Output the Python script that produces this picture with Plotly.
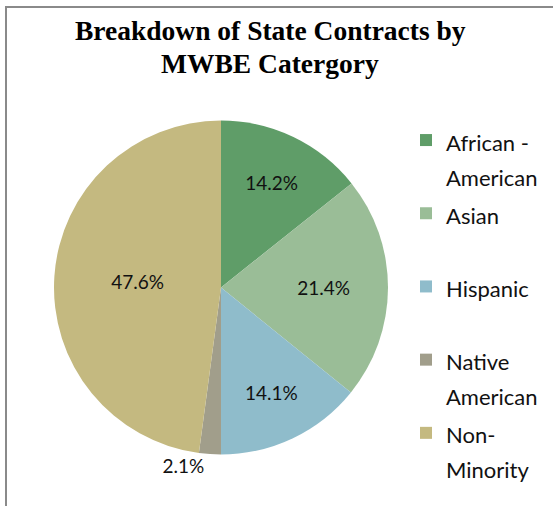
import plotly.graph_objects as go

categories = ["African -<br>American", "Asian", "Hispanic", "Native<br>American", "Non-<br>Minority"]
values = [14.2, 21.4, 14.1, 2.1, 47.6]
colors = ["#5f9d68", "#9abd97", "#8fbccb", "#a19e8b", "#c4b980"]
title_lines = ["Breakdown of State Contracts by", "MWBE Catergory"]

W, H = 553, 506


def legend_label(s):
    lines = s.split("<br>")
    while len(lines) < 2:
        lines.append(" ")
    return "<br>".join(f"<span style='font-size:22px'>{ln}</span>" for ln in lines)


labels = [legend_label(v) for v in categories]
text_labels = [f"{v:.1f}%" for v in values]
positions = ["inside", "inside", "inside", "outside", "inside"]

fig = go.Figure(go.Pie(
    labels=labels,
    values=values,
    text=text_labels,
    textinfo="text",
    textposition=positions,
    insidetextorientation="horizontal",
    sort=False,
    direction="clockwise",
    rotation=0,
    marker=dict(colors=colors, line=dict(width=0)),
    textfont=dict(family="Lato", size=19, color="#111111"),
    domain=dict(x=[54 / W, 388 / W], y=[(H - 454.5) / H, (H - 120.5) / H]),
    hoverinfo="label+percent",
))

title_centers = [31, 63.5]
annotations = [dict(text=f"<b>{t}</b>", xref="paper", yref="paper",
                    x=270 / W, y=1 - cy / H, xanchor="center", yanchor="middle",
                    showarrow=False,
                    font=dict(family="Liberation Serif", size=27.5, color="black"))
               for t, cy in zip(title_lines, title_centers)]

fig.update_layout(
    width=W, height=H,
    margin=dict(l=0, r=0, t=0, b=0),
    paper_bgcolor="white",
    legend=dict(x=406 / W, xanchor="left", y=1 - 116 / H, yanchor="top",
                font=dict(family="Lato", size=27, color="#111111"),
                valign="top", bgcolor="rgba(0,0,0,0)"),
    annotations=annotations,
    shapes=[dict(type="rect", xref="paper", yref="paper",
                 x0=6 / W, x1=1.2, y0=-0.2, y1=1 - 7 / H,
                 line=dict(color="#8a8a8a", width=2), fillcolor="rgba(0,0,0,0)",
                 layer="below")],
)

fig.write_html("out.html", config={"displayModeBar": False},
               post_script="document.body.style.margin='0';")
